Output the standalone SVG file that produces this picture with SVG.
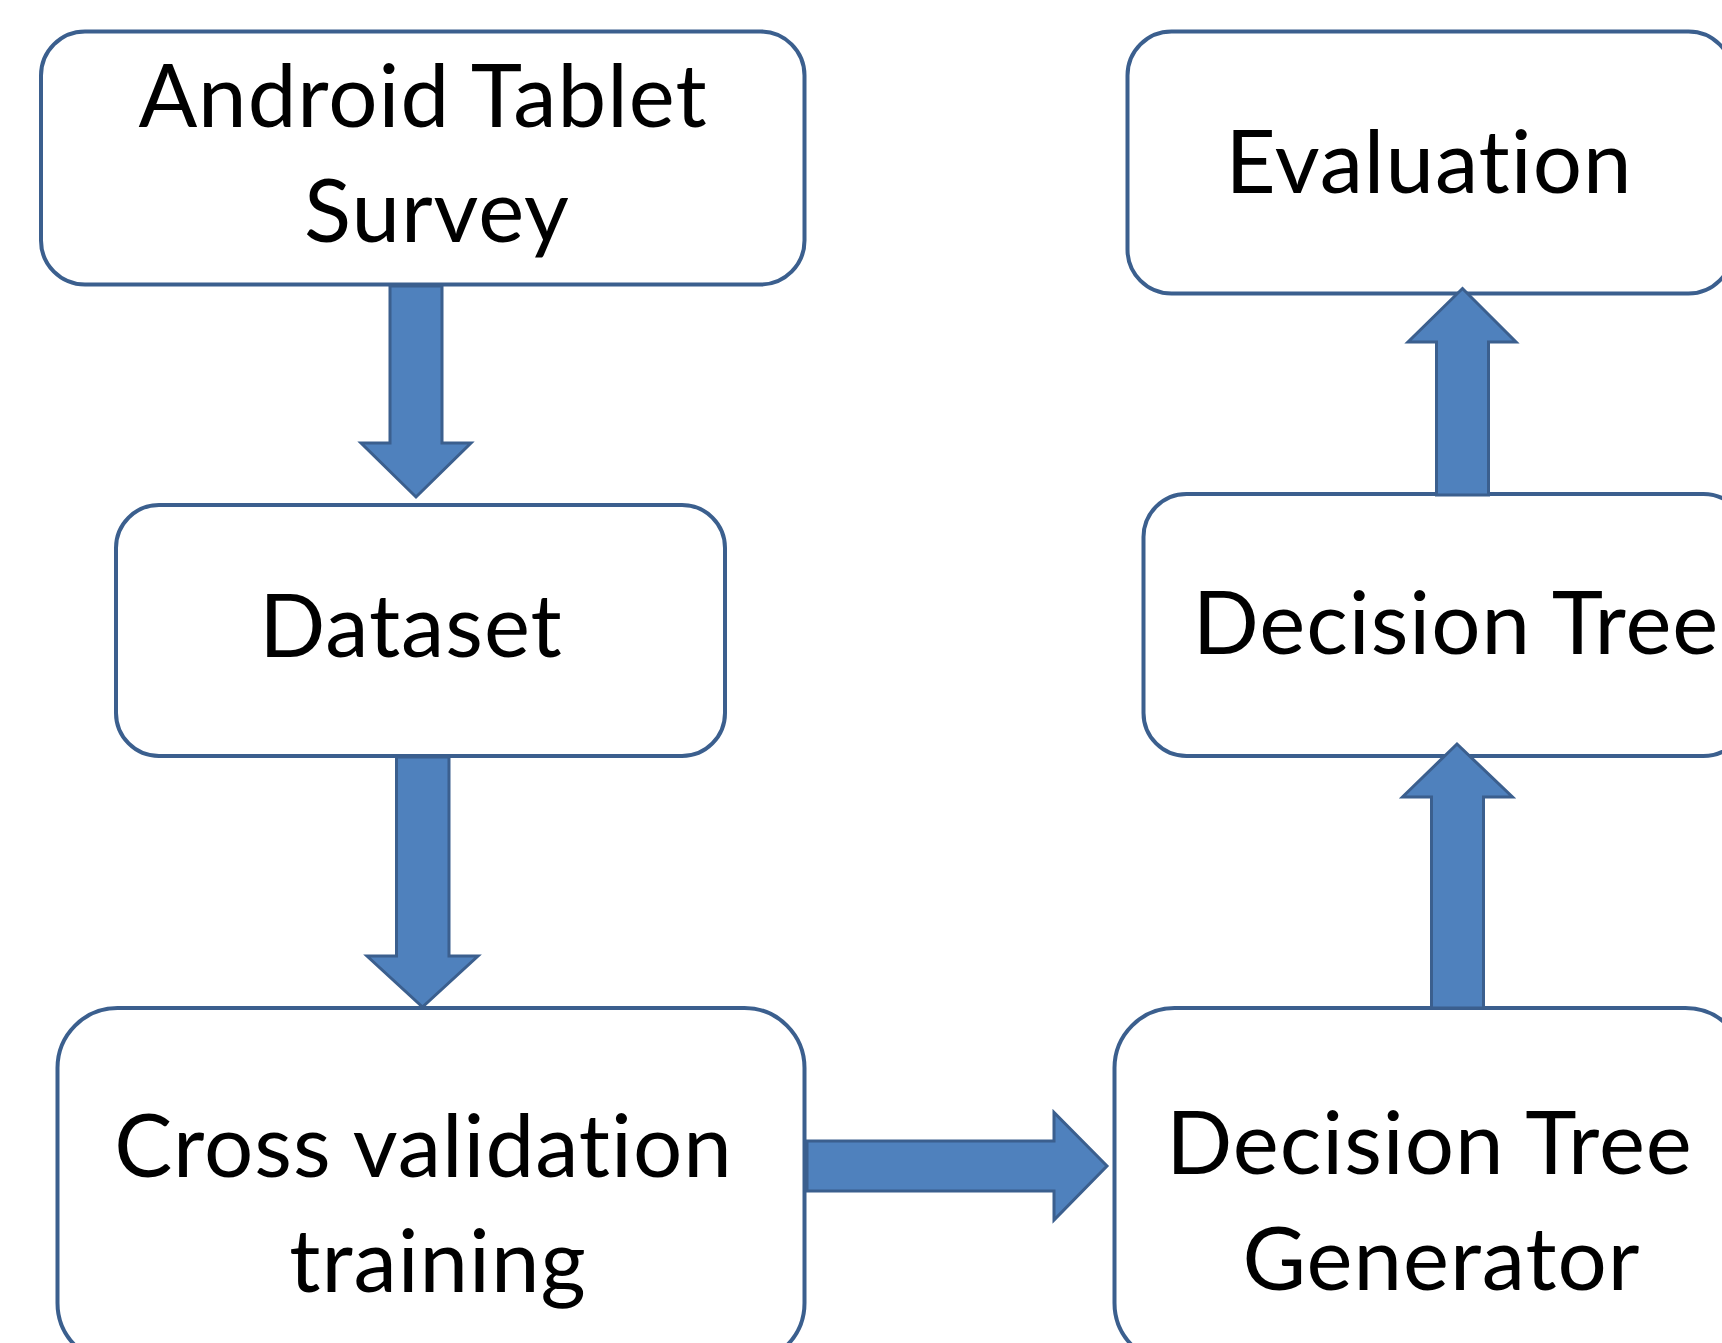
<svg xmlns="http://www.w3.org/2000/svg" width="1722" height="1343" viewBox="0 0 1722 1343">
<style>
.box{fill:#ffffff;stroke:#3B5F8E;stroke-width:4}
.arr{fill:#4F81BD;stroke:#3B5F8E;stroke-width:3;stroke-linejoin:miter}
.lbl{font-family:Lato,"Liberation Sans",sans-serif;font-size:87px;letter-spacing:1px;font-variant-ligatures:none;fill:#000000;text-anchor:middle}
</style>
<rect width="1722" height="1343" fill="#ffffff"/>
<g id="node-survey">
<rect class="box" x="41" y="31.5" width="763.5" height="253" rx="44" ry="44"/>
<text class="lbl" x="423" y="127">Android Tablet</text>
<text class="lbl" x="437" y="242">Survey</text>
</g>
<g id="node-dataset">
<rect class="box" x="116" y="505" width="609" height="251" rx="43" ry="43"/>
<text class="lbl" x="411" y="657">Dataset</text>
</g>
<g id="node-cross">
<rect class="box" x="57.5" y="1008" width="747" height="355" rx="60" ry="60"/>
<text class="lbl" x="423.5" y="1177">Cross validation</text>
<text class="lbl" x="438" y="1292">training</text>
</g>
<g id="node-generator">
<rect class="box" x="1114.5" y="1008" width="631" height="355" rx="60" ry="60"/>
<text class="lbl" x="1429.5" y="1174">Decision Tree</text>
<text class="lbl" x="1441.5" y="1290">Generator</text>
</g>
<g id="node-tree">
<rect class="box" x="1143.5" y="494" width="603" height="262" rx="43" ry="43"/>
<text class="lbl" x="1456" y="654">Decision Tree</text>
</g>
<g id="node-evaluation">
<rect class="box" x="1127.5" y="31.5" width="605" height="262" rx="44" ry="44"/>
<text class="lbl" x="1429" y="193">Evaluation</text>
</g>
<g id="connectors">
<polygon class="arr" points="390,286 442,286 442,443 471,443 416,497 361,443 390,443"/>
<polygon class="arr" points="396.5,757 449,757 449,956 478,956 422.5,1007 367,956 396.5,956"/>
<polygon class="arr" points="807,1141 1054,1141 1054,1112.5 1107,1166 1054,1220 1054,1191 807,1191"/>
<polygon class="arr" points="1436.5,495 1488.5,495 1488.5,342 1516,342 1462.5,288.5 1408,342 1436.5,342"/>
<polygon class="arr" points="1431.5,1008 1483.5,1008 1483.5,797 1512.5,797 1457,744 1402.5,797 1431.5,797"/>
</g>
</svg>
